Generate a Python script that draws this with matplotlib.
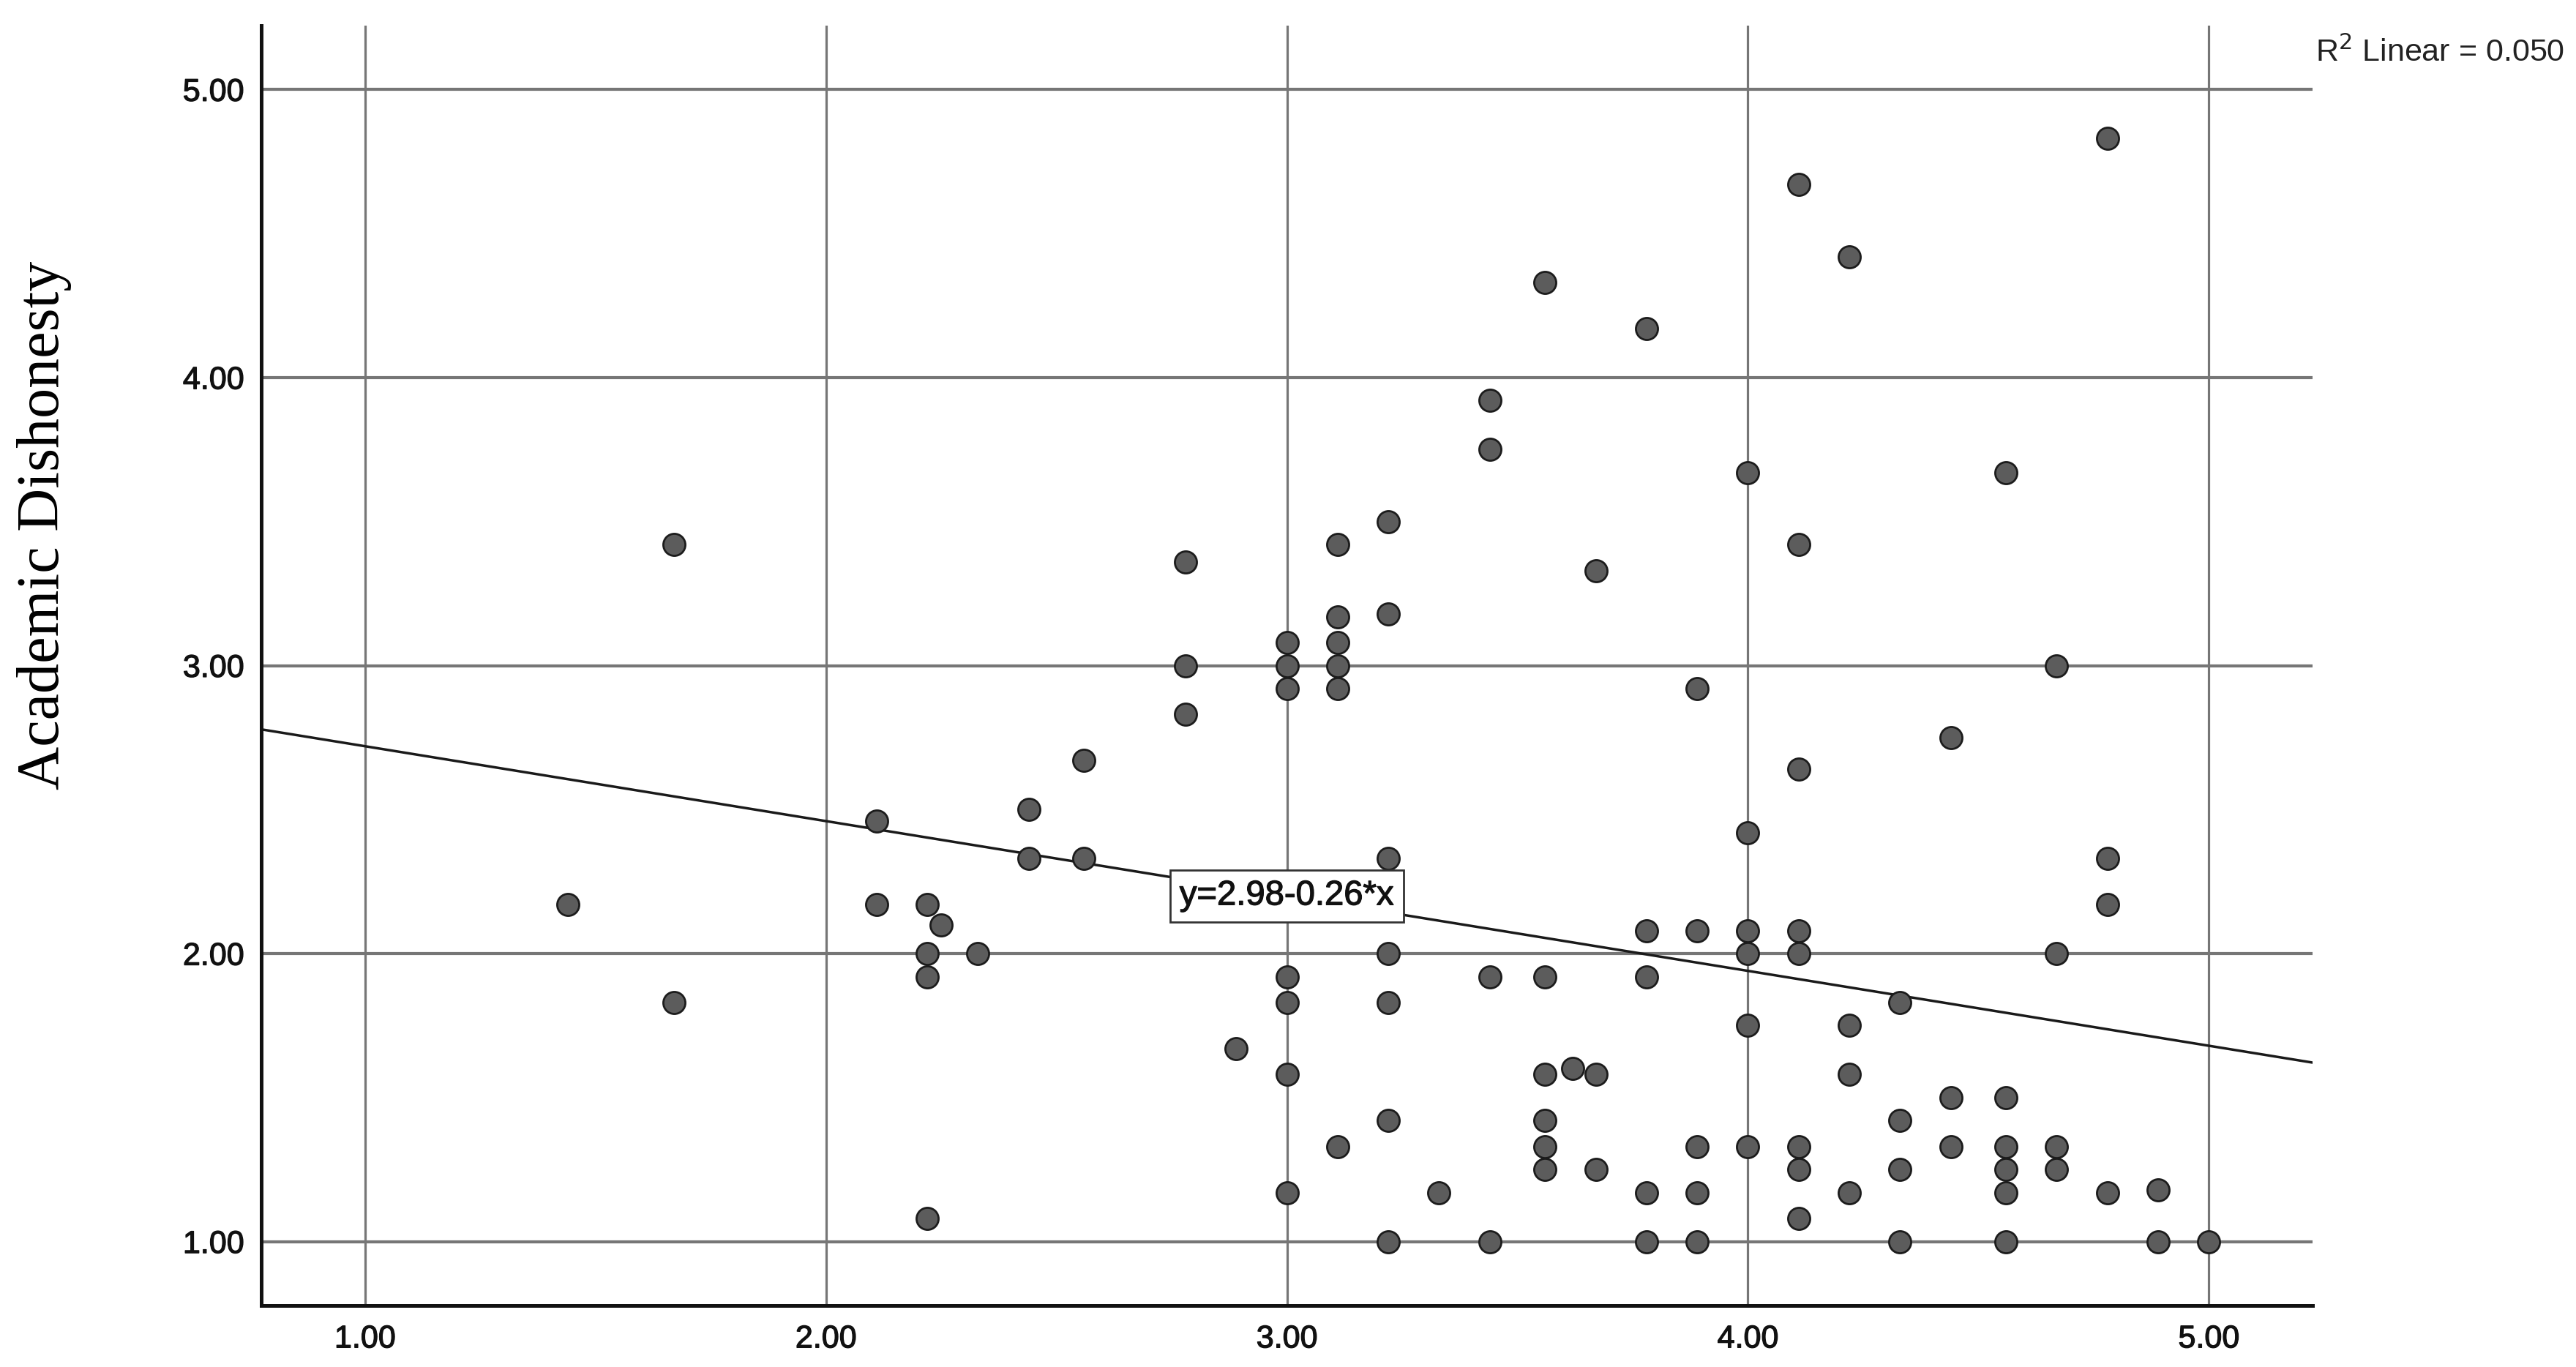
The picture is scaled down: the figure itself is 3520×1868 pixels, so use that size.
import matplotlib
matplotlib.use("Agg")
import matplotlib.pyplot as plt
import matplotlib.patheffects as pe
from matplotlib.ticker import FormatStrFormatter

# ---- data ----
x_vals = [1.44,
          1.67, 1.67,
          2.11, 2.11,
          2.22, 2.22, 2.22, 2.22,
          2.25,
          2.33,
          2.44, 2.44,
          2.56, 2.56,
          2.78, 2.78, 2.78,
          2.89,
          3.00, 3.00, 3.00, 3.00, 3.00, 3.00, 3.00,
          3.11, 3.11, 3.11, 3.11, 3.11, 3.11,
          3.22, 3.22, 3.22, 3.22, 3.22, 3.22, 3.22,
          3.33,
          3.44, 3.44, 3.44, 3.44,
          3.56, 3.56, 3.56, 3.56, 3.56, 3.56,
          3.62,
          3.67, 3.67, 3.67,
          3.78, 3.78, 3.78, 3.78, 3.78,
          3.89, 3.89, 3.89, 3.89, 3.89,
          4.00, 4.00, 4.00, 4.00, 4.00, 4.00,
          4.11, 4.11, 4.11, 4.11, 4.11, 4.11, 4.11, 4.11,
          4.22, 4.22, 4.22, 4.22,
          4.33, 4.33, 4.33, 4.33,
          4.44, 4.44, 4.44,
          4.56, 4.56, 4.56, 4.56, 4.56, 4.56,
          4.67, 4.67, 4.67, 4.67,
          4.78, 4.78, 4.78, 4.78,
          4.89, 4.89,
          5.00]
y_vals = [2.17,
          3.42, 1.83,
          2.46, 2.17,
          2.17, 2.00, 1.92, 1.08,
          2.10,
          2.00,
          2.50, 2.33,
          2.67, 2.33,
          3.36, 3.00, 2.83,
          1.67,
          3.08, 3.00, 2.92, 1.92, 1.83, 1.58, 1.17,
          3.42, 3.17, 3.08, 3.00, 2.92, 1.33,
          3.50, 3.18, 2.33, 2.00, 1.83, 1.42, 1.00,
          1.17,
          3.92, 3.75, 1.92, 1.00,
          4.33, 1.92, 1.58, 1.42, 1.33, 1.25,
          1.60,
          3.33, 1.58, 1.25,
          4.17, 2.08, 1.92, 1.17, 1.00,
          2.92, 2.08, 1.33, 1.17, 1.00,
          3.67, 2.42, 2.08, 2.00, 1.75, 1.33,
          4.67, 3.42, 2.64, 2.08, 2.00, 1.33, 1.25, 1.08,
          4.42, 1.75, 1.58, 1.17,
          1.83, 1.42, 1.25, 1.00,
          2.75, 1.50, 1.33,
          3.67, 1.50, 1.33, 1.25, 1.17, 1.00,
          3.00, 2.00, 1.33, 1.25,
          4.83, 2.33, 2.17, 1.17,
          1.18, 1.00,
          1.00]

fit_intercept = 2.98
fit_slope = -0.26
r_squared = 0.050
tick_values = [1.0, 2.0, 3.0, 4.0, 5.0]
y_label = "Academic Dishonesty"

# ---- figure ----
W, H, DPI = 3520, 1868, 100
fig = plt.figure(figsize=(W / DPI, H / DPI), dpi=DPI, facecolor="white")
ax = fig.add_axes([357 / W, 1 - 1784 / H, (3160 - 357) / W, (1784 - 35) / H])

xlim = (0.775, 5.225)
ylim = (0.778, 5.222)
ax.set_xlim(*xlim)
ax.set_ylim(*ylim)

# grid lines
for v in tick_values:
    ax.axhline(v, color="#767676", lw=3.0, zorder=1)
    ax.axvline(v, color="#767676", lw=2.3, zorder=1)

# fit line
ax.plot(list(xlim), [fit_intercept + fit_slope * xlim[0], fit_intercept + fit_slope * xlim[1]],
        color="#1a1a1a", lw=2.5, zorder=2)

# points
ax.scatter(x_vals, y_vals, s=470, facecolor="#5c5c5c", edgecolor="#1c1c1c",
           linewidths=2.0, zorder=3)

thick = [pe.withStroke(linewidth=0.9, foreground="#111111")]

# equation label
ax.text(3.0, 2.20, "y=%.2f-%.2f*x" % (fit_intercept, -fit_slope), fontsize=34,
        family="Liberation Sans", ha="center", va="center", zorder=4, color="#111111",
        path_effects=thick,
        bbox=dict(boxstyle="square,pad=0.28", facecolor="white", edgecolor="#333333", lw=2.0))

# spines
for side in ("top", "right"):
    ax.spines[side].set_visible(False)
for side in ("left", "bottom"):
    ax.spines[side].set_color("#111111")
    ax.spines[side].set_linewidth(3.6)

ax.set_xticks(tick_values)
ax.set_yticks(tick_values)
ax.xaxis.set_major_formatter(FormatStrFormatter("%.2f"))
ax.yaxis.set_major_formatter(FormatStrFormatter("%.2f"))
ax.tick_params(axis="both", length=0, labelsize=31, colors="#111111")
ax.tick_params(axis="x", pad=19)
ax.tick_params(axis="y", pad=17)
for lab in ax.get_xticklabels() + ax.get_yticklabels():
    lab.set_family("Liberation Sans")
    lab.set_path_effects(thick)

# R^2 annotation
fig.text(3164 / W, 1 - 72 / H, r"R$^2$ Linear = %.3f" % r_squared, fontsize=31,
         family="Liberation Sans", ha="left", va="center", color="#222222")

# y axis label
fig.text(60 / W, 1 - 718 / H, y_label, fontsize=59, family="Liberation Serif",
         rotation=90, ha="center", va="center", color="black")

fig.savefig("out.png", dpi=DPI, facecolor="white")
